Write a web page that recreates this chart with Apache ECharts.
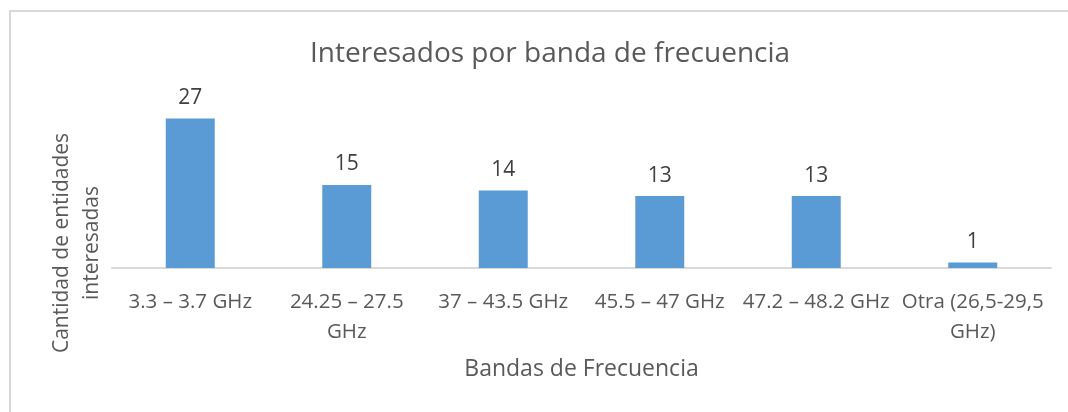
<!DOCTYPE html>
<html>
<head>
<meta charset="utf-8">
<script src="https://cdn.jsdelivr.net/npm/echarts@6/dist/echarts.min.js"></script>
<style>
  html, body { margin: 0; padding: 0; background: #fff; }
  #chart { width: 1068px; height: 412px; }
</style>
</head>
<body>
<div id="chart"></div>
<script>
var bandas = ['3.3 – 3.7 GHz', '24.25 – 27.5\nGHz', '37 – 43.5 GHz', '45.5 – 47 GHz', '47.2 – 48.2 GHz', 'Otra (26,5-29,5\nGHz)'];
var interesados = [27, 15, 14, 13, 13, 1];

var chart = echarts.init(document.getElementById('chart'));
var font = 'Open Sans';

var option = {
    backgroundColor: '#fff',
    // chart area frame (only top and left edges fall inside the picture)
    graphic: [{
        type: 'rect',
        shape: { x: 10, y: 11, width: 1100, height: 500 },
        style: { fill: 'none', stroke: '#d9d9d9', lineWidth: 2 },
        silent: true
    }],
    title: {
        text: 'Interesados por banda de frecuencia',
        left: 305,
        top: 35,
        textStyle: { fontFamily: font, fontSize: 28, fontWeight: 'normal', color: '#595959' }
    },
    grid: { left: 112, right: 17, top: 102, bottom: 144 },
    xAxis: {
        type: 'category',
        data: bandas,
        name: 'Bandas de Frecuencia',
        nameLocation: 'middle',
        nameGap: 90,
        nameTextStyle: { fontFamily: font, fontSize: 23, color: '#595959' },
        axisLine: { lineStyle: { color: '#d9d9d9', width: 2 } },
        axisTick: { show: false },
        axisLabel: { fontFamily: font, fontSize: 20.5, color: '#595959', margin: 19, lineHeight: 30, interval: 0 }
    },
    yAxis: {
        type: 'value',
        min: 0,
        max: 30,
        name: 'Cantidad de entidades\ninteresadas',
        nameLocation: 'middle',
        nameRotate: 90,
        nameGap: 5,
        nameTextStyle: { fontFamily: font, fontSize: 21, color: '#595959', lineHeight: 30, padding: [0, 116, 0, 0] },
        axisLine: { show: false },
        axisTick: { show: false },
        axisLabel: { show: false },
        splitLine: { show: false }
    },
    series: [{
        type: 'bar',
        data: interesados,
        barWidth: 49,
        itemStyle: { color: '#5b9bd5' },
        label: {
            show: true,
            position: 'top',
            distance: 10,
            fontFamily: font,
            fontSize: 21,
            color: '#404040'
        }
    }]
};

chart.setOption(option);
</script>
</body>
</html>
